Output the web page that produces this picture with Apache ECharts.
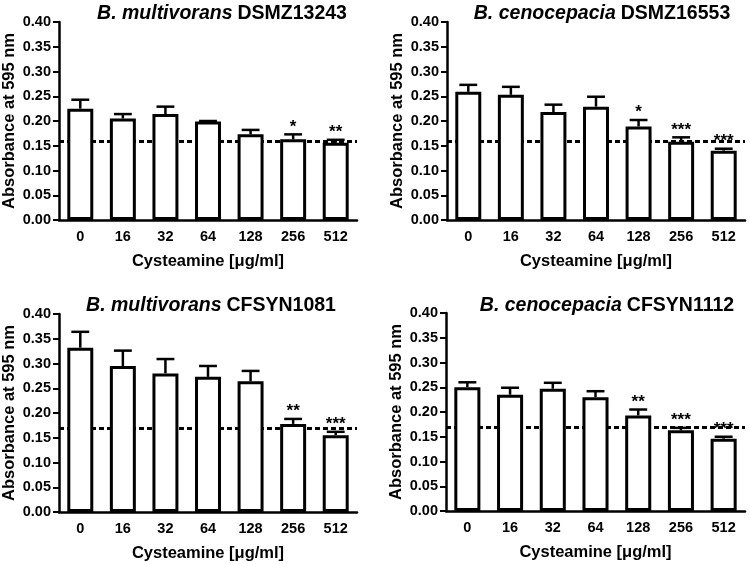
<!DOCTYPE html>
<html>
<head>
<meta charset="utf-8">
<script src="https://cdn.jsdelivr.net/npm/echarts@6/dist/echarts.min.js"></script>
<style>html,body{margin:0;padding:0;background:#fff}#c{width:750px;height:564px}</style>
</head>
<body>
<div id="c"></div>
<script>
// ---- data ----
const categories = ['0', '16', '32', '64', '128', '256', '512'];

const titleGenus = ['B. multivorans', 'B. cenocepacia', 'B. multivorans', 'B. cenocepacia'];
const titleStrain = ['DSMZ13243', 'DSMZ16553', 'CFSYN1081', 'CFSYN1112'];

const mean1 = [0.225, 0.205, 0.214, 0.199, 0.173, 0.163, 0.156];
const sem1  = [0.018, 0.009, 0.015, 0.001, 0.009, 0.010, 0.006];
const star1 = ['', '', '', '', '', '*', '**'];

const mean2 = [0.259, 0.253, 0.218, 0.229, 0.189, 0.158, 0.140];
const sem2  = [0.014, 0.016, 0.015, 0.020, 0.013, 0.009, 0.004];
const star2 = ['', '', '', '', '*', '***', '***'];

const mean3 = [0.332, 0.295, 0.280, 0.273, 0.264, 0.178, 0.155];
const sem3  = [0.032, 0.031, 0.029, 0.022, 0.021, 0.010, 0.007];
const star3 = ['', '', '', '', '', '**', '***'];

const mean4 = [0.250, 0.235, 0.247, 0.230, 0.193, 0.163, 0.146];
const sem4  = [0.010, 0.014, 0.012, 0.012, 0.012, 0.005, 0.004];
const star4 = ['', '', '', '', '**', '***', '***'];

const controlLevel = [0.164, 0.164, 0.165, 0.165];

const yMin = 0, yMax = 0.40, yStep = 0.05;
const xAxisName = 'Cysteamine [\u03bcg/ml]';
const yAxisName = 'Absorbance at 595 nm';

// ---- layout ----
const FONT = '"Liberation Sans", Arial, Helvetica, sans-serif';
const grids = [
  {left: 57, top: 22, width: 300, height: 198},
  {left: 447, top: 22, width: 298, height: 198},
  {left: 57, top: 314, width: 300, height: 198},
  {left: 446, top: 313, width: 299, height: 198}
];
const titlePos = [
  {x: 217, y: -1}, {x: 597, y: -1}, {x: 206, y: 291}, {x: 602, y: 291}
];
const means = [mean1, mean2, mean3, mean4];
const sems = [sem1, sem2, sem3, sem4];
const stars = [star1, star2, star3, star4];

const option = {
  backgroundColor: '#fff',
  animation: false,
  title: [], grid: [], xAxis: [], yAxis: [], series: []
};

for (let p = 0; p < 4; p++) {
  option.title.push({
    text: '{i|' + titleGenus[p] + '} {n|' + titleStrain[p] + '}',
    left: titlePos[p].x, top: titlePos[p].y, textAlign: 'center',
    textStyle: {
      rich: {
        i: {fontFamily: FONT, fontSize: 19.5, fontWeight: 'bold', fontStyle: 'italic', color: '#000'},
        n: {fontFamily: FONT, fontSize: 19.5, fontWeight: 'bold', color: '#000'}
      }
    }
  });
  option.grid.push(Object.assign({containLabel: false}, grids[p]));
  option.xAxis.push({
    type: 'category', gridIndex: p, data: categories,
    name: xAxisName, nameLocation: 'middle', nameGap: 33,
    nameTextStyle: {fontFamily: FONT, fontSize: 16.5, fontWeight: 'bold', color: '#000'},
    axisLine: {lineStyle: {color: '#000', width: 2.5}},
    axisTick: {alignWithLabel: true, length: 6, lineStyle: {color: '#000', width: 2}},
    axisLabel: {fontFamily: FONT, fontSize: 14.5, fontWeight: 'bold', color: '#000', margin: 9},
    splitLine: {show: false}
  });
  option.yAxis.push({
    type: 'value', gridIndex: p, min: yMin, max: yMax, interval: yStep,
    name: yAxisName, nameLocation: 'middle', nameGap: 41,
    nameTextStyle: {fontFamily: FONT, fontSize: 16.5, fontWeight: 'bold', color: '#000'},
    axisLine: {show: true, lineStyle: {color: '#000', width: 2.5}},
    axisTick: {show: true, length: 6, lineStyle: {color: '#000', width: 2}},
    axisLabel: {fontFamily: FONT, fontSize: 14.5, fontWeight: 'bold', color: '#000', margin: 8,
      formatter: v => v.toFixed(2)},
    splitLine: {show: false}
  });
  option.series.push({
    type: 'bar', xAxisIndex: p, yAxisIndex: p, data: means[p],
    barWidth: '61%', z: 3,
    itemStyle: {color: '#fff', borderColor: '#000', borderWidth: 3},
    markLine: {
      silent: true, symbol: 'none', z: 1,
      label: {show: false},
      lineStyle: {color: '#000', width: 3, type: [5, 3]},
      data: [{yAxis: controlLevel[p]}]
    }
  });
  const mp = means[p], sp = sems[p], st = stars[p];
  option.series.push({
    type: 'custom', xAxisIndex: p, yAxisIndex: p, z: 4,
    data: mp.map((m, i) => [i, m, m + sp[i]]),
    renderItem: function (params, api) {
      const i = api.value(0);
      const base = api.coord([i, api.value(1)]);
      const top = api.coord([i, api.value(2)]);
      const bw = api.size([1, 0])[0];
      const cap = bw * 0.21;
      const children = [
        {type: 'line', shape: {x1: base[0], y1: base[1], x2: top[0], y2: top[1]},
          style: {stroke: '#000', lineWidth: 2.5}},
        {type: 'line', shape: {x1: top[0] - cap, y1: top[1], x2: top[0] + cap, y2: top[1]},
          style: {stroke: '#000', lineWidth: 2.5}}
      ];
      const s = st[i];
      if (s) {
        children.push({type: 'text', x: top[0], y: top[1] + 1,
          style: {text: s, fontFamily: FONT, fontSize: 17, fontWeight: 'bold', fill: '#000',
            align: 'center', verticalAlign: 'bottom'}});
      }
      return {type: 'group', children: children};
    }
  });
}

const chart = echarts.init(document.getElementById('c'), null, {renderer: 'canvas'});
chart.setOption(option);
</script>
</body>
</html>
